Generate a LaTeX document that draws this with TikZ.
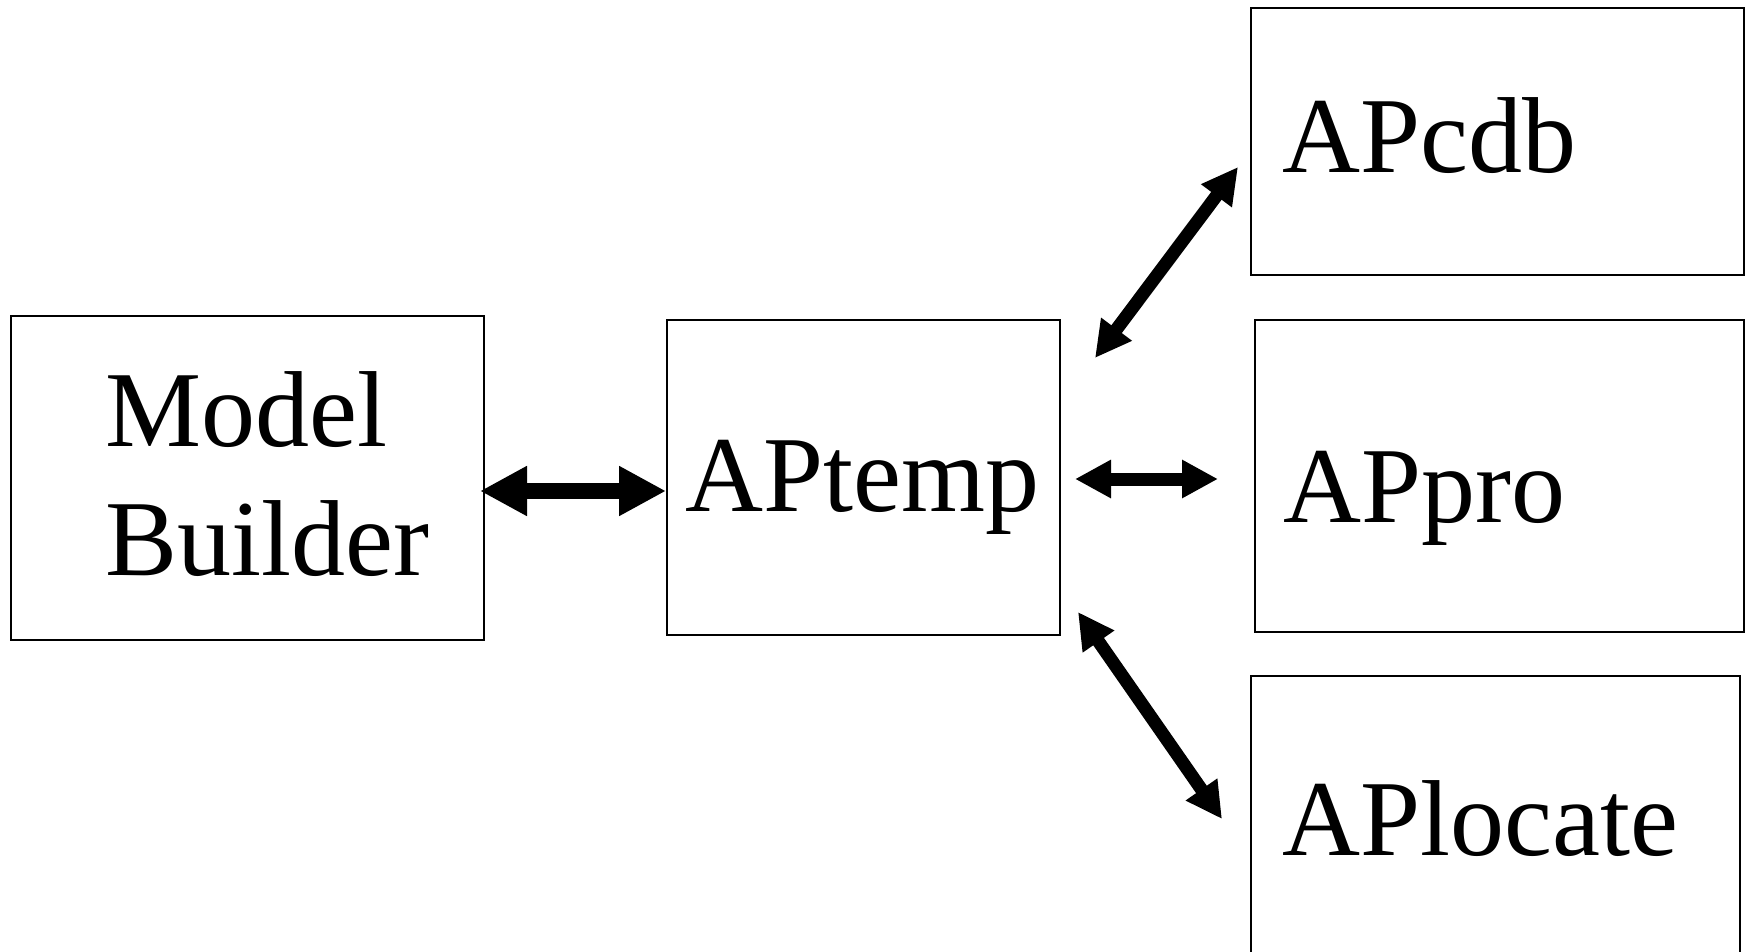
\documentclass[tikz,border=0pt]{standalone}
\usepackage{fontspec}
\setmainfont{Liberation Serif}
\usetikzlibrary{arrows.meta}
\begin{document}
\begin{tikzpicture}[x=0.5pt,y=-0.5pt,
  box/.style={draw, line width=1pt, rectangle, inner sep=0pt, anchor=north west},
  boxtext/.style={anchor=base west, inner sep=0pt, font=\fontsize{54}{64.5}\selectfont},
  bigarrow/.style={line width=8pt,
    {Triangle[length=23.5pt,width=23.5pt]}-{Triangle[length=23.5pt,width=23.5pt]}},
  linkarrow/.style={line width=6.5pt,
    {Triangle[length=18pt,width=18pt]}-{Triangle[length=18pt,width=18pt]}}]
\useasboundingbox (0,0) rectangle (1751,952);
\clip (0,0) rectangle (1751,952);

% boxes
\node[box, minimum width=236.5pt, minimum height=162pt] (mb) at (10,315) {};
\node[box, minimum width=196.5pt, minimum height=157.5pt] (temp) at (666,319) {};
\node[box, minimum width=246.5pt, minimum height=133.5pt] (cdb) at (1250,7) {};
\node[box, minimum width=244.5pt, minimum height=156pt] (pro) at (1254,319) {};
\node[box, minimum width=244.5pt, minimum height=170pt] (loc) at (1250,675) {};

% labels
\node[boxtext] (mbtop) at (105.5,446) {Model};
\node[boxtext] (mbbot) at (105.5,575) {Builder};
\node[boxtext] (temptext) at (685.5,511) {APtemp};
\node[boxtext] (cdbtext) at (1282.5,173) {APcdb};
\node[boxtext] (protext) at (1283.5,522) {APpro};
\node[boxtext] (loctext) at (1282.5,855) {APlocate};

% arrow end points
\coordinate (m1) at (480,491);
\coordinate (t1) at (666,491);
\coordinate (t2) at (1075,479);
\coordinate (p2) at (1218,479);
\coordinate (t3) at (1095,358);
\coordinate (c3) at (1238,167);
\coordinate (t4) at (1078,612);
\coordinate (l4) at (1222,819);

% connectors
\draw[bigarrow] (m1) -- (t1);
\draw[linkarrow] (t2) -- (p2);
\draw[linkarrow] (t3) -- (c3);
\draw[linkarrow] (t4) -- (l4);
\end{tikzpicture}
\end{document}
